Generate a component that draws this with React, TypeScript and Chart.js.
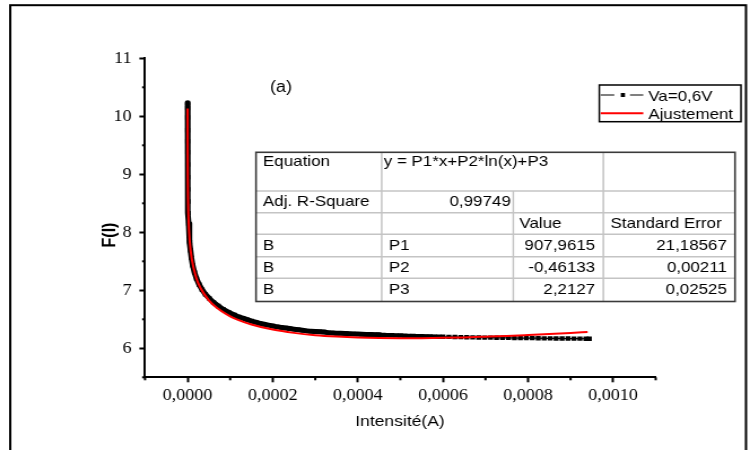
import { useEffect, useRef } from 'react';
import { Chart, registerables } from 'chart.js';

Chart.register(...registerables);

// Measured curve F(I) for Va = 0,6 V
const measuredCurrent = [
  2.5e-8, 3.5e-8, 5e-8, 8e-8, 1.2e-7, 1.8e-7, 2.8e-7, 4.5e-7, 7e-7, 1.1e-6,
  1.7e-6, 2.5e-6, 3.6e-6, 5e-6, 6.8e-6, 9e-6, 1.2e-5, 1.6e-5, 2.1e-5, 2.7e-5,
  3.4e-5, 4.2e-5, 5.1e-5, 6.1e-5, 7.2e-5, 8.4e-5, 9.7e-5, 0.00011,
  0.00012, 0.00013, 0.00014, 0.00015, 0.00016, 0.00017, 0.00018, 0.00019, 0.0002,
  0.00021, 0.00022, 0.00023, 0.00024, 0.00025, 0.00026, 0.00027, 0.00028, 0.00029, 0.0003,
  0.00031, 0.00032, 0.00033, 0.00034, 0.00035, 0.00036, 0.00037, 0.00038, 0.00039, 0.0004,
  0.00041, 0.00042, 0.00043, 0.00044, 0.00045, 0.00046, 0.00047, 0.00048, 0.00049, 0.0005,
  0.00051, 0.00052, 0.00053, 0.00054, 0.00055, 0.00056, 0.00057, 0.00058, 0.00059, 0.0006,
  0.000614, 0.000628, 0.000642, 0.000656, 0.00067, 0.000684, 0.000698, 0.000712, 0.000726,
  0.00074, 0.000754, 0.000768, 0.000782, 0.000796, 0.00081, 0.000824, 0.000838, 0.000852,
  0.000866, 0.00088, 0.000894, 0.000908, 0.000922, 0.000936, 0.000944,
];
const measuredF = [
  10.23, 10.14, 9.98, 9.76, 9.57, 9.38, 9.17, 8.95, 8.74, 8.53,
  8.33, 8.15, 7.98, 7.83, 7.69, 7.56, 7.43, 7.31, 7.2, 7.1,
  7.01, 6.93, 6.86, 6.79, 6.73, 6.67, 6.62, 6.575,
  6.54, 6.52, 6.495, 6.47, 6.45, 6.43, 6.415, 6.4, 6.385,
  6.37, 6.36, 6.35, 6.34, 6.33, 6.32, 6.31, 6.3, 6.295, 6.29,
  6.285, 6.28, 6.27, 6.265, 6.26, 6.258, 6.255, 6.25, 6.248, 6.245,
  6.242, 6.24, 6.237, 6.235, 6.233, 6.23, 6.228, 6.225, 6.222, 6.22,
  6.217, 6.214, 6.212, 6.21, 6.208, 6.206, 6.204, 6.202, 6.2, 6.198,
  6.196, 6.194, 6.192, 6.19, 6.188, 6.186, 6.185, 6.184, 6.182,
  6.181, 6.18, 6.178, 6.177, 6.176, 6.175, 6.174, 6.172, 6.171,
  6.17, 6.169, 6.168, 6.167, 6.166, 6.165, 6.164,
];

// Fitted curve y = P1*x + P2*ln(x) + P3, evaluated with the tabulated parameters
const fitCurrent = [
  3.5e-8, 1e-7, 2e-7, 5e-7, 1e-6, 2e-6, 5e-6, 1e-5, 2e-5, 3e-5, 5e-5, 7e-5,
  0.0001, 0.00012, 0.00015, 0.0002, 0.00025, 0.0003, 0.00035, 0.0004, 0.00045,
  0.0005, 0.00055, 0.0006, 0.00065, 0.0007, 0.00075, 0.0008, 0.00085, 0.0009, 0.00094,
];
const fitF = [
  10.133, 9.649, 9.329, 8.906, 8.587, 8.268, 7.848, 7.533, 7.222, 7.044, 6.827, 6.69,
  6.552, 6.487, 6.411, 6.323, 6.266, 6.227, 6.202, 6.185, 6.176,
  6.173, 6.175, 6.18, 6.188, 6.2, 6.213, 6.229, 6.246, 6.265, 6.282,
];

const legendLabels = ['Va=0,6V', 'Ajustement'];
const xAxisTitle = 'Intensité(A)';
const yAxisTitle = 'F(I)';
const panelLabel = '(a)';

// Fit report
const fitEquation = 'y = P1*x+P2*ln(x)+P3';
const adjRSquare = '0,99749';
const paramDataset = ['B', 'B', 'B'];
const paramNames = ['P1', 'P2', 'P3'];
const paramValues = ['907,9615', '-0,46133', '2,2127'];
const paramErrors = ['21,18567', '0,00211', '0,02525'];

const X_MIN = -0.0001;
const X_MAX = 0.0011;
const X_STEP = 0.0001;
const Y_MIN = 5.5;
const Y_MAX = 11;
const Y_STEP = 0.5;

// The canvas is rendered narrower and widened by CSS, giving the wide lettering.
const CANVAS_W = 664;
const CANVAS_H = 450;
const S = 750 / CANVAS_W;
const ix = (x: number) => x / S;

const SERIF = "'Liberation Serif', 'Times New Roman', serif";
const SANS = "'Liberation Sans', Arial, sans-serif";

const isMajorX = (v: number) => Math.abs(Math.round(v / X_STEP)) % 2 === 0;
const isMajorY = (v: number) => Math.abs(v - Math.round(v)) < 1e-9;

function line(ctx: CanvasRenderingContext2D, x1: number, y1: number, x2: number, y2: number) {
  ctx.beginPath();
  ctx.moveTo(x1, y1);
  ctx.lineTo(x2, y2);
  ctx.stroke();
}

const decorations = {
  id: 'decorations',
  afterDraw(chart: any) {
    const ctx: CanvasRenderingContext2D = chart.ctx;
    const { left, bottom } = chart.chartArea;
    const xs = chart.scales.x;
    const ys = chart.scales.y;
    ctx.save();

    // minor ticks
    ctx.strokeStyle = '#000';
    ctx.lineWidth = 2;
    xs.ticks.forEach((t: any) => {
      if (!isMajorX(t.value)) {
        const px = xs.getPixelForValue(t.value);
        line(ctx, px, bottom, px, bottom + 3);
      }
    });
    ys.ticks.forEach((t: any) => {
      if (!isMajorY(t.value)) {
        const py = ys.getPixelForValue(t.value);
        line(ctx, left - 2.6, py, left, py);
      }
    });

    // axis titles and panel label
    ctx.fillStyle = '#000';
    ctx.textBaseline = 'alphabetic';
    ctx.textAlign = 'center';
    ctx.font = `15.5px ${SANS}`;
    ctx.fillText(xAxisTitle, ix(400), 426);
    ctx.save();
    ctx.translate(ix(110), 235);
    ctx.rotate(-Math.PI / 2);
    ctx.textBaseline = 'middle';
    ctx.font = `bold 16px ${SANS}`;
    ctx.fillText(yAxisTitle, 0, 0);
    ctx.restore();
    ctx.textAlign = 'left';
    ctx.font = `16px ${SANS}`;
    ctx.fillText(panelLabel, ix(270), 92);

    // legend
    const lx0 = ix(599.3), lx1 = ix(741), ly0 = 85, ly1 = 121.7;
    ctx.fillStyle = '#fff';
    ctx.fillRect(lx0, ly0, lx1 - lx0, ly1 - ly0);
    ctx.strokeStyle = '#000';
    ctx.lineWidth = 1.5;
    ctx.strokeRect(lx0, ly0, lx1 - lx0, ly1 - ly0);
    ctx.lineWidth = 1;
    line(ctx, ix(600.7), 95, ix(614.3), 95);
    line(ctx, ix(630), 95, ix(643.3), 95);
    ctx.fillStyle = '#000';
    ctx.fillRect(ix(620.8), 93, ix(4.2), 4);
    ctx.strokeStyle = '#ff0000';
    ctx.lineWidth = 2;
    line(ctx, ix(600.7), 113.3, ix(643.3), 113.3);
    ctx.fillStyle = '#000';
    ctx.font = `15px ${SANS}`;
    ctx.fillText(legendLabels[0], ix(648.3), 100.7);
    ctx.fillText(legendLabels[1], ix(648.3), 119.3);

    // fit report table
    const c = [256, 381.7, 513.3, 603.3, 735].map(ix);
    const r = [152.3, 191, 212.7, 234.3, 256.7, 278.3, 301.5];
    ctx.fillStyle = '#fff';
    ctx.fillRect(c[0], r[0], c[4] - c[0], r[6] - r[0]);
    ctx.strokeStyle = '#c4c4c4';
    ctx.lineWidth = 1.5;
    for (let i = 1; i < 6; i++) line(ctx, c[0], r[i], c[4], r[i]);
    line(ctx, c[1], r[0], c[1], r[6]);
    line(ctx, c[2], r[1], c[2], r[6]);
    line(ctx, c[3], r[0], c[3], r[6]);
    ctx.strokeStyle = '#3a3a3a';
    ctx.lineWidth = 1.6;
    ctx.strokeRect(c[0], r[0], c[4] - c[0], r[6] - r[0]);

    ctx.fillStyle = '#000';
    ctx.font = `15px ${SANS}`;
    ctx.textAlign = 'left';
    const padL = 6.2;
    const padR = 7.2;
    ctx.fillText('Equation', c[0] + padL, 166);
    ctx.fillText(fitEquation, c[1] + 1.8, 166);
    ctx.fillText('Adj. R-Square', c[0] + padL, 206);
    ctx.fillText('Value', c[2] + 5.4, 228);
    ctx.fillText('Standard Error', c[3] + 6.4, 228);
    const base = [250, 271.5, 293.5];
    for (let i = 0; i < 3; i++) {
      ctx.textAlign = 'left';
      ctx.fillText(paramDataset[i], c[0] + padL, base[i]);
      ctx.fillText(paramNames[i], c[1] + padL, base[i]);
      ctx.textAlign = 'right';
      ctx.fillText(paramValues[i], c[3] - padR, base[i]);
      ctx.fillText(paramErrors[i], c[4] - padR, base[i]);
    }
    ctx.fillText(adjRSquare, c[2] - 2.2, 206);

    // outer frame
    ctx.strokeStyle = '#000';
    ctx.lineWidth = 2;
    ctx.strokeRect(ix(10.2), 5.2, ix(746) - ix(10.2), 460);

    ctx.restore();
  },
};

export default function App() {
  const ref = useRef<HTMLCanvasElement>(null);

  useEffect(() => {
    const canvas = ref.current;
    if (!canvas) return;
    const chart = new Chart(canvas, {
      type: 'scatter',
      data: {
        datasets: [
          {
            label: legendLabels[1],
            data: fitCurrent.map((x, i) => ({ x, y: fitF[i] })),
            showLine: true,
            borderColor: '#ff0000',
            borderWidth: 2,
            borderJoinStyle: 'round',
            pointRadius: 0,
            cubicInterpolationMode: 'monotone',
          },
          {
            label: legendLabels[0],
            data: measuredCurrent.map((x, i) => ({ x, y: measuredF[i] })),
            showLine: true,
            borderColor: '#000',
            borderWidth: 1.2,
            borderJoinStyle: 'round',
            borderCapStyle: 'round',
            // the dense low-current part of the sweep reads as a heavy band
            segment: {
              borderWidth: (c: any) => {
                const x = c.p0.parsed.x;
                return x < 0.00045 ? 5 : x < 0.0006 ? 3.5 : 1.2;
              },
            },
            pointStyle: 'rect',
            pointRadius: 3.1,
            pointBackgroundColor: '#000',
            pointBorderColor: '#000',
            pointBorderWidth: 0,
          },
        ],
      },
      options: {
        responsive: false,
        animation: false,
        devicePixelRatio: 1,
        events: [],
        layout: { padding: { left: 78.4, right: 83.5, top: 58.3, bottom: 32.7 } },
        plugins: {
          legend: { display: false },
          tooltip: { enabled: false },
          title: { display: false },
        },
        scales: {
          x: {
            type: 'linear',
            position: 'bottom',
            min: X_MIN,
            max: X_MAX,
            afterFit: (s: any) => {
              s.height = 40;
            },
            border: { display: true, color: '#000', width: 2 },
            grid: {
              drawOnChartArea: false,
              drawTicks: true,
              tickLength: 5,
              tickWidth: 2,
              tickColor: (c: any) => (c.tick && isMajorX(c.tick.value) ? '#000' : 'rgba(0,0,0,0)'),
            },
            ticks: {
              stepSize: X_STEP,
              autoSkip: false,
              maxRotation: 0,
              minRotation: 0,
              padding: 4,
              color: '#000',
              font: { family: SERIF, size: 16 },
              callback: (v: any) => {
                const n = Math.abs(v) < 1e-12 ? 0 : Number(v);
                return isMajorX(n) ? n.toFixed(4).replace('.', ',') : '';
              },
            },
          },
          y: {
            type: 'linear',
            position: 'left',
            min: Y_MIN,
            max: Y_MAX,
            afterFit: (s: any) => {
              s.width = 50;
            },
            border: { display: true, color: '#000', width: 2 },
            grid: {
              drawOnChartArea: false,
              drawTicks: true,
              tickLength: 5,
              tickWidth: 2,
              tickColor: (c: any) => (c.tick && isMajorY(c.tick.value) ? '#000' : 'rgba(0,0,0,0)'),
            },
            ticks: {
              stepSize: Y_STEP,
              autoSkip: false,
              padding: 7,
              color: '#000',
              font: { family: SERIF, size: 16 },
              callback: (v: any) => (isMajorY(Number(v)) ? String(Math.round(Number(v))) : ''),
            },
          },
        },
      },
      plugins: [decorations],
    } as any);
    return () => chart.destroy();
  }, []);

  return (
    <div style={{ position: 'fixed', left: 0, top: 0, width: 750, height: 450, background: '#fff' }}>
      <canvas
        ref={ref}
        width={CANVAS_W}
        height={CANVAS_H}
        style={{ width: '750px', height: '450px', display: 'block' }}
      />
    </div>
  );
}
